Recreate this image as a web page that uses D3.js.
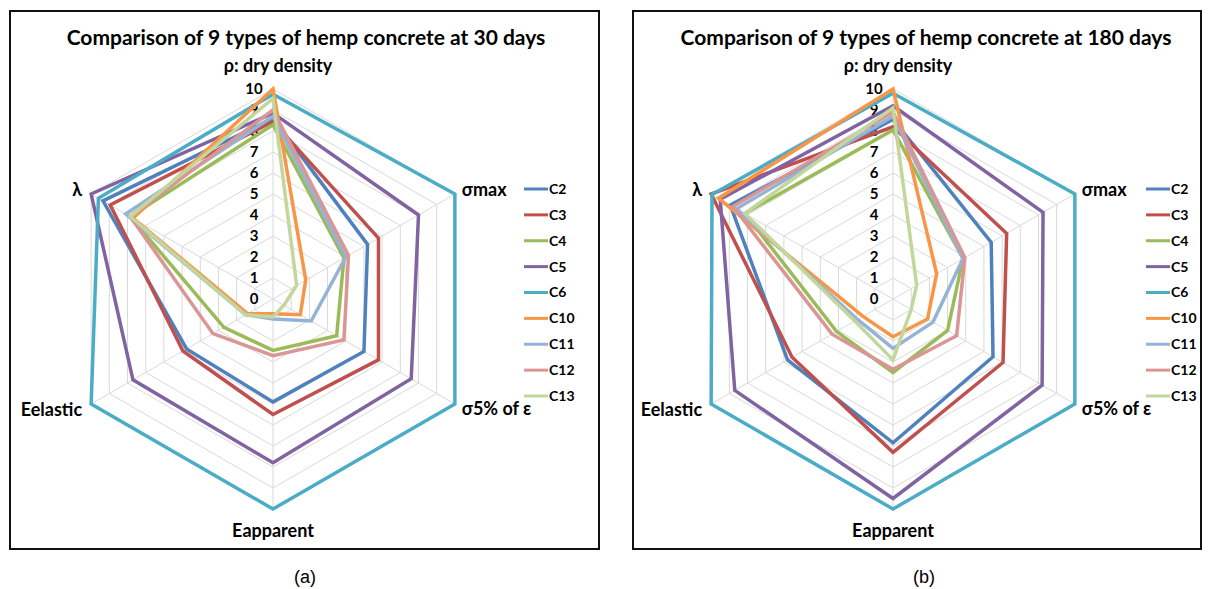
<!DOCTYPE html>
<html lang="en">
<head>
    <meta charset="UTF-8">
    <script src="https://d3js.org/d3.v7.min.js"></script>
    <title>Hemp concrete radar</title>
    <style>
        body{
            margin: 0;
            background: #fff;
        }
        svg text{
            font-family: Lato, "Open Sans", sans-serif;
            font-weight: bold;
            fill: #000;
        }
        svg text.caption{
            font-family: "Liberation Sans", Arial, sans-serif;
            font-weight: normal;
        }
    </style>
</head>
<body>
    <script>
        // axes go clockwise from the top
        const axes = ["ρ: dry density", "σmax", "σ5% of ε", "Eapparent", "Eelastic", "λ"];
        const series = ["C2", "C3", "C4", "C5", "C6", "C10", "C11", "C12", "C13"];
        const colors = ["#4F81BD", "#C0504D", "#9BBB59", "#8064A2", "#4BACC6",
                        "#F79646", "#95B3D7", "#D99694", "#C3D69B"];
        const ticks = [0, 1, 2, 3, 4, 5, 6, 7, 8, 9, 10];

        // one row per series, same order as axes
        const values30 = [
            [8.6, 5.2, 5.0, 4.9, 4.75, 9.35],
            [8.45, 5.8, 5.8, 5.5, 4.95, 8.95],
            [8.3, 3.9, 3.5, 2.45, 2.7, 7.85],
            [8.85, 8.0, 7.6, 7.8, 7.7, 10],
            [9.75, 10, 10, 10, 10, 9.6],
            [10, 1.8, 1.5, 0.7, 1.4, 7.7],
            [8.7, 4.0, 2.1, 0.95, 1.5, 8.1],
            [9.0, 4.15, 3.9, 2.7, 3.3, 7.85],
            [9.55, 1.3, 0.6, 0.85, 1.5, 7.85]
        ];
        const values180 = [
            [8.55, 5.4, 5.5, 6.85, 5.8, 8.95],
            [8.2, 6.25, 6.05, 7.3, 5.55, 10],
            [8.05, 3.85, 3.0, 3.5, 3.1, 8.15],
            [9.2, 8.25, 8.2, 9.5, 8.7, 9.5],
            [9.8, 10, 10, 10, 10, 9.95],
            [10, 2.4, 1.9, 1.8, 1.65, 9.6],
            [8.7, 3.85, 2.2, 2.35, 1.95, 8.6],
            [8.9, 3.95, 3.5, 3.35, 3.35, 8.8],
            [9.1, 1.3, 1.0, 2.9, 2.1, 8.15]
        ];

        const width = 1209;
        const height = 589;

        const svg = d3.select('body')
            .append('svg')
            .attr('width', width)
            .attr('height', height);

        const r = d3.scaleLinear()
            .domain([0, 10])
            .range([0, 210]);

        const angle = i => i * Math.PI / 3;

        function point(cx, cy, i, v) {
            return [cx + r(v) * Math.sin(angle(i)), cy - r(v) * Math.cos(angle(i))];
        }

        function drawPanel(p) {
            const g = svg.append('g');

            g.append('rect')
                .attr('x', p.x)
                .attr('y', p.y)
                .attr('width', p.w)
                .attr('height', p.h)
                .attr('fill', 'none')
                .attr('stroke', '#111')
                .attr('stroke-width', 2);

            g.append('text')
                .attr('x', p.titleX)
                .attr('y', 38)
                .attr('dy', '0.35em')
                .attr('text-anchor', 'middle')
                .style('font-size', '21px')
                .text(p.title);

            // grid rings
            const ring = d3.lineRadial()
                .angle((d, i) => angle(i))
                .radius(d => r(d))
                .curve(d3.curveLinearClosed);

            const grid = g.append('g')
                .attr('transform', `translate(${p.cx},${p.cy})`);

            grid.selectAll('path.ring')
                .data(ticks.slice(1)).enter()
                .append('path')
                .attr('class', 'ring')
                .attr('d', t => ring(axes.map(() => t)))
                .attr('fill', 'none')
                .attr('stroke', '#d9d9d9')
                .attr('stroke-width', 1);

            grid.selectAll('line.spoke')
                .data(axes).enter()
                .append('line')
                .attr('class', 'spoke')
                .attr('x1', 0)
                .attr('y1', 0)
                .attr('x2', (d, i) => r(10) * Math.sin(angle(i)))
                .attr('y2', (d, i) => -r(10) * Math.cos(angle(i)))
                .attr('stroke', '#d9d9d9')
                .attr('stroke-width', 1);

            // tick numbers on the top axis
            g.selectAll('text.tick')
                .data(ticks).enter()
                .append('text')
                .attr('class', 'tick')
                .attr('x', p.cx - 19)
                .attr('y', t => p.cy - r(t))
                .attr('dy', '0.35em')
                .attr('text-anchor', 'middle')
                .style('font-size', '15px')
                .text(t => t);

            // series polygons
            const poly = d3.line().curve(d3.curveLinearClosed);
            g.selectAll('path.series')
                .data(p.values).enter()
                .append('path')
                .attr('class', 'series')
                .attr('d', row => poly(row.map((v, i) => point(p.cx, p.cy, i, v))))
                .attr('fill', 'none')
                .attr('stroke', (d, k) => colors[k])
                .attr('stroke-width', 3.5)
                .attr('stroke-linejoin', 'miter');

            // axis names
            const lab = [
                {dx: 5, dy: -23, anchor: 'middle'},
                {dx: 7, dy: -4, anchor: 'start'},
                {dx: 7, dy: 5, anchor: 'start'},
                {dx: 0, dy: 22, anchor: 'middle'},
                {dx: -9, dy: 6, anchor: 'end'},
                {dx: -9, dy: -4, anchor: 'end'}
            ];
            g.selectAll('text.axis')
                .data(axes).enter()
                .append('text')
                .attr('class', 'axis')
                .attr('x', (d, i) => point(p.cx, p.cy, i, 10)[0] + lab[i].dx)
                .attr('y', (d, i) => point(p.cx, p.cy, i, 10)[1] + lab[i].dy)
                .attr('dy', '0.35em')
                .attr('text-anchor', (d, i) => lab[i].anchor)
                .style('font-size', '18px')
                .text(d => d);

            // legend
            const ly = d3.scalePoint()
                .domain(series)
                .range([189, 396]);

            const leg = g.selectAll('g.leg')
                .data(series).enter()
                .append('g')
                .attr('class', 'leg')
                .attr('transform', d => `translate(${p.legendX},${ly(d)})`);

            leg.append('line')
                .attr('x1', 0)
                .attr('x2', 24)
                .attr('stroke', (d, k) => colors[k])
                .attr('stroke-width', 3);

            leg.append('text')
                .attr('x', 25)
                .attr('dy', '0.35em')
                .style('font-size', '14px')
                .text(d => d);

            svg.append('text')
                .attr('class', 'caption')
                .attr('x', p.captionX)
                .attr('y', 577)
                .attr('dy', '0.35em')
                .attr('text-anchor', 'middle')
                .style('font-size', '18px')
                .text(p.caption);
        }

        drawPanel({
            x: 10, y: 11, w: 589, h: 538,
            cx: 273, cy: 299,
            titleX: 306,
            title: 'Comparison of 9 types of hemp concrete at 30 days',
            values: values30,
            legendX: 524,
            captionX: 305,
            caption: '(a)'
        });

        drawPanel({
            x: 633, y: 11, w: 568, h: 538,
            cx: 893, cy: 299,
            titleX: 926,
            title: 'Comparison of 9 types of hemp concrete at 180 days',
            values: values180,
            legendX: 1146,
            captionX: 924,
            caption: '(b)'
        });
    </script>
</body>
</html>
